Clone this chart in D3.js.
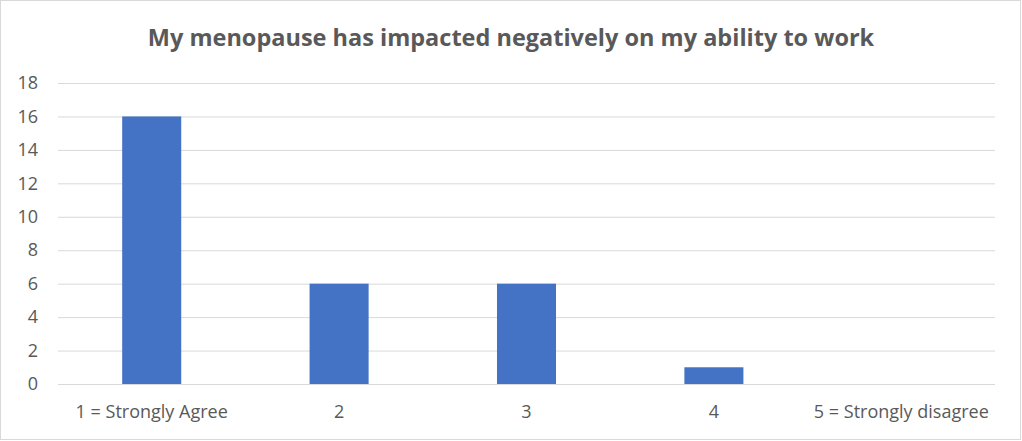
<!DOCTYPE html>
<html><head><meta charset="utf-8">
<script src="https://cdn.jsdelivr.net/npm/d3@7"></script>
<style>body{margin:0;background:#fff}svg{display:block}text{font-family:"Open Sans",sans-serif;fill:#595959}</style>
</head><body>
<script>
const categories = ["1 = Strongly Agree", "2", "3", "4", "5 = Strongly disagree"];
const values = [16, 6, 6, 1, 0];
const yTicks = [0, 2, 4, 6, 8, 10, 12, 14, 16, 18];
const title = "My menopause has impacted negatively on my ability to work";

const W = 1022, H = 441;
const svg = d3.select("body").append("svg").attr("width", W).attr("height", H);
svg.append("rect").attr("x", 0.5).attr("y", 0.5).attr("width", W - 2).attr("height", H - 2)
  .attr("fill", "#fff").attr("stroke", "#d9d9d9");

const m = {left: 58, right: 995, top: 83, bottom: 384};
const x = d3.scaleBand().domain(categories).range([m.left, m.right]).paddingInner(0.685).paddingOuter(0.3425);
const y = d3.scaleLinear().domain([0, 18]).range([m.bottom, m.top]);

svg.append("text").attr("x", 511).attr("y", 46).attr("text-anchor", "middle")
  .style("font-weight", "bold").style("font-size", "23.5px").text(title);

const gy = svg.append("g").attr("transform", `translate(${m.left},0)`)
  .call(d3.axisLeft(y).tickValues(yTicks).tickSize(-(m.right - m.left)).tickPadding(20));
gy.select(".domain").remove();
gy.selectAll(".tick line").attr("stroke", "#d9d9d9").attr("stroke-width", 1);
gy.selectAll(".tick text").style("font-size", "18px").attr("fill", "#595959");

svg.selectAll("rect.bar").data(values).enter().append("rect").attr("class", "bar")
  .attr("x", (d, i) => x(categories[i])).attr("width", x.bandwidth())
  .attr("y", d => y(d)).attr("height", d => y(0) - y(d)).attr("fill", "#4472c4");

const gx = svg.append("g").attr("transform", `translate(0,${m.bottom})`)
  .call(d3.axisBottom(x).tickSize(0).tickPadding(21));
gx.select(".domain").remove();
gx.selectAll(".tick text").style("font-size", "18px").attr("fill", "#595959");
</script>
</body></html>
